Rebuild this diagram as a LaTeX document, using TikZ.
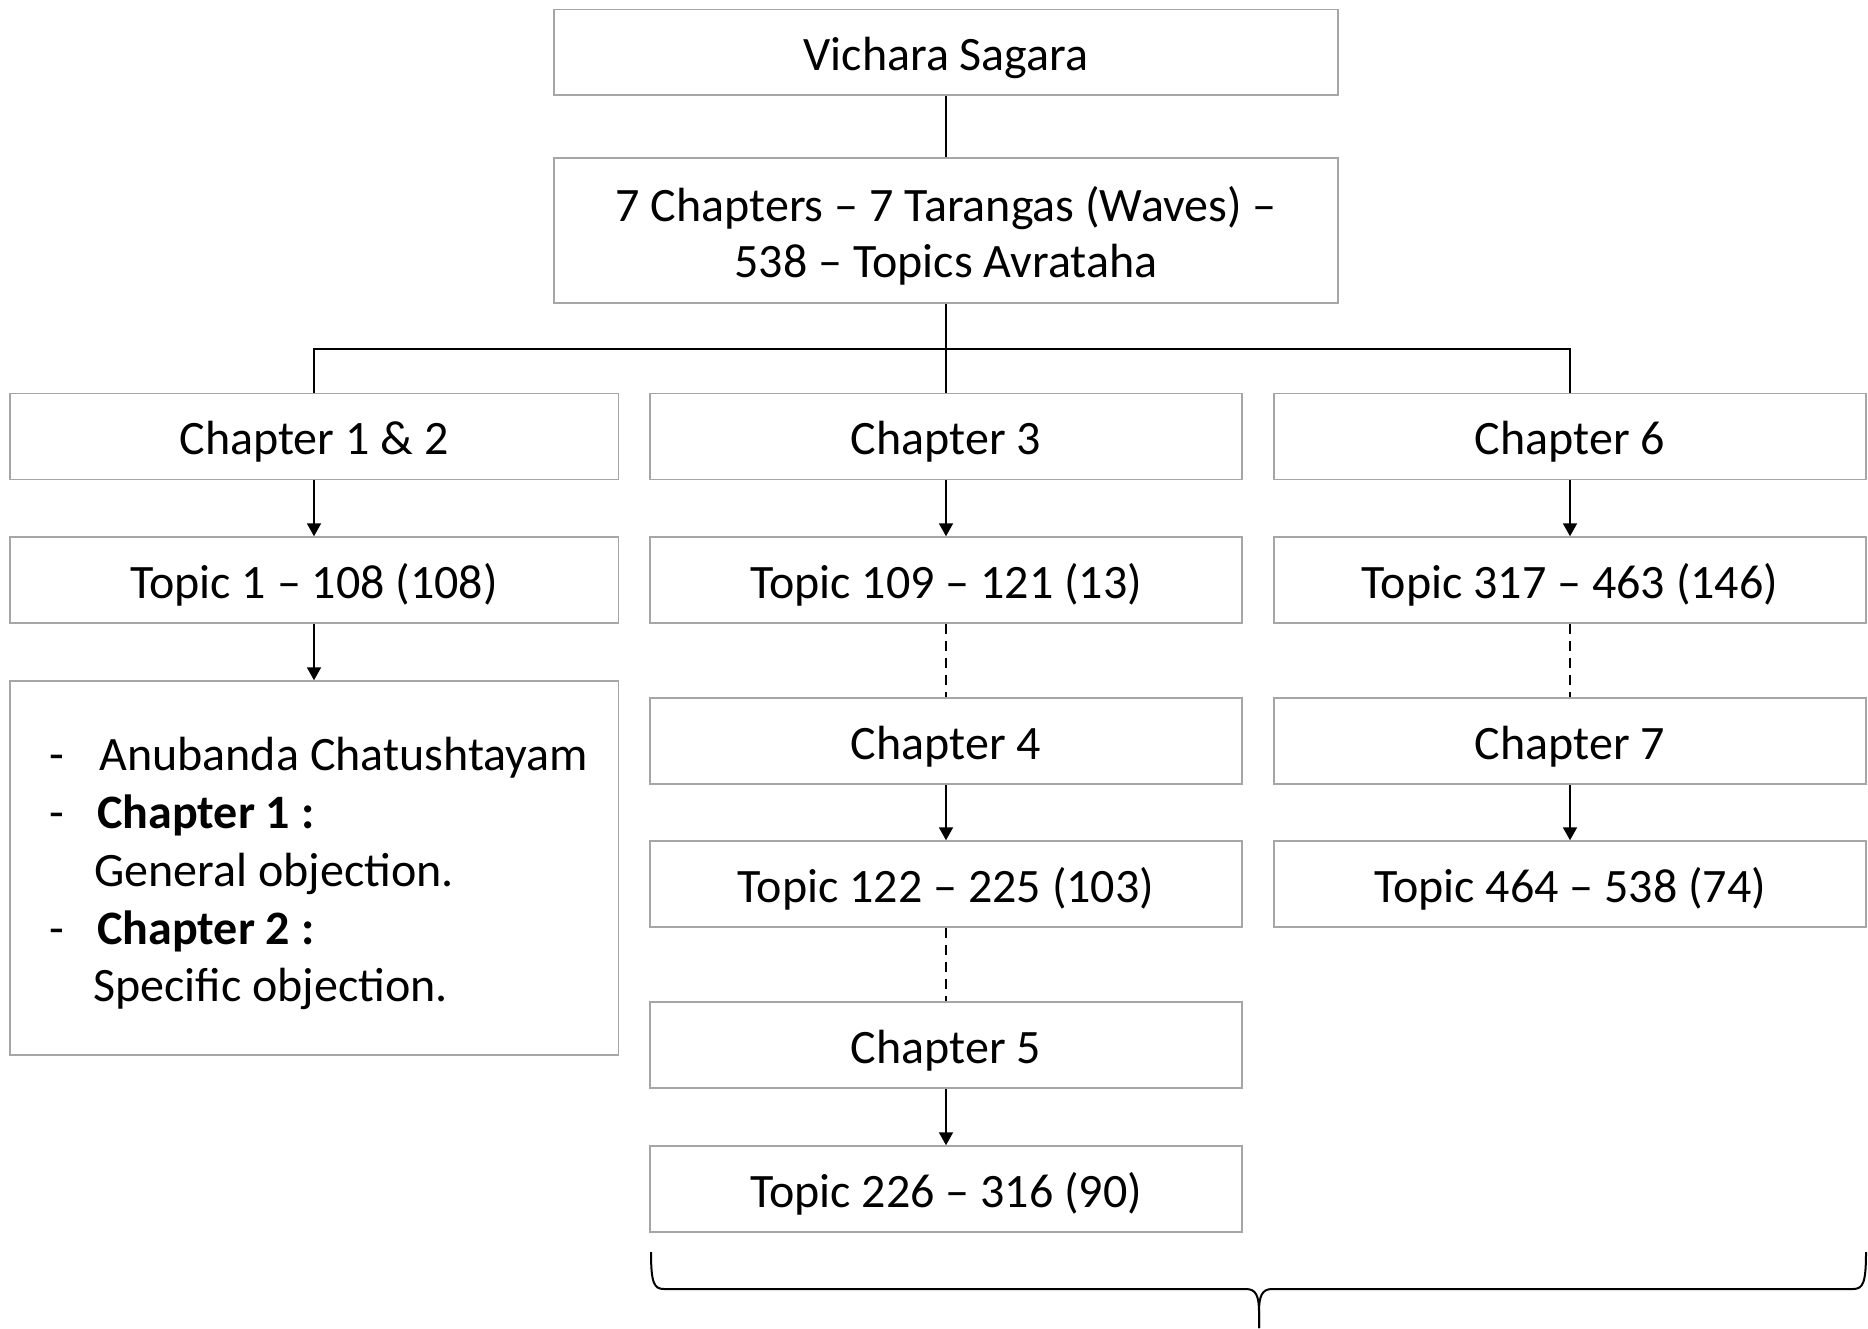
\documentclass[tikz,border=0pt]{standalone}
\usepackage{fontspec}
\setmainfont{Carlito}
\usetikzlibrary{arrows.meta}
\definecolor{boxgray}{RGB}{166,166,166}
\begin{document}
\begin{tikzpicture}[x=0.5pt,y=-0.5pt,
  txt/.style={font=\fontsize{24}{28}\selectfont},
  box/.style={txt, draw=boxgray, line width=0.75pt, minimum height=43pt, inner sep=0pt,
    text height=19pt, text depth=0.8pt},
  widebox/.style={box, minimum width=304.25pt},
  colbox/.style={box, minimum width=296pt},
  topbox/.style={box, minimum width=392pt},
  link/.style={line width=1pt, black},
  arr/.style={link, -{Triangle[width=7pt,length=6.5pt]}},
  dlink/.style={line width=0.8pt, black, dash pattern=on 5pt off 3.5pt},
  line/.style={txt, anchor=base west, inner sep=0pt}]

\useasboundingbox (0,0) rectangle (1868,1328);

% title and summary
\node[topbox, minimum height=42.75pt] (title) at (946,52) {Vichara Sagara};
\node[topbox, minimum height=72.5pt, align=center, text height=47.5pt, text depth=0.8pt] (summary) at (946,230.5)
  {7 Chapters -- 7 Tarangas (Waves) --\\538 -- Topics Avrataha};

% first row of chapters
\node[widebox] (c12) at (314,436.5) {Chapter 1 \& 2};
\node[colbox] (c3) at (946,436.5) {Chapter 3};
\node[colbox] (c6) at (1570,436.5) {Chapter 6};

% topic ranges
\node[widebox] (t1) at (314,580) {Topic 1 -- 108 (108)};
\node[colbox] (t109) at (946,580) {Topic 109 -- 121 (13)};
\node[colbox] (t317) at (1570,580) {Topic 317 -- 463 (146)};

% description of chapters 1 and 2
\node[draw=boxgray, line width=0.75pt, minimum width=304.25pt, minimum height=187pt, inner sep=0pt] (desc) at (314,868) {};
\node[line] (d1) at (49,770) {-};
\node[line] (l1) at (99,770) {Anubanda Chatushtayam};
\node[line] (d2) at (49,828) {-};
\node[line] (l2) at (97,828) {\bfseries Chapter 1 :};
\node[line] (l3) at (94,886) {General objection.};
\node[line] (d3) at (49,944) {-};
\node[line] (l4) at (97,944) {\bfseries Chapter 2 :};
\node[line] (l5) at (93,1001) {Specific objection.};

% middle column
\node[colbox] (c4) at (946,741) {Chapter 4};
\node[colbox] (t122) at (946,884) {Topic 122 -- 225 (103)};
\node[colbox] (c5) at (946,1045) {Chapter 5};
\node[colbox] (t226) at (946,1189) {Topic 226 -- 316 (90)};

% right column
\node[colbox] (c7) at (1570,741) {Chapter 7};
\node[colbox] (t464) at (1570,884) {Topic 464 -- 538 (74)};

% tree connectors
\coordinate (hub) at (946,349);
\draw[link] (title) -- (summary);
\draw[link] (summary.south) -- (c3.north);
\draw[link] (c12.north) -- (c12.north |- hub) -- (c6.north |- hub) -- (c6.north);

% arrows
\draw[arr] (c12) -- (t1);
\draw[arr] (t1) -- (desc);
\draw[arr] (c3) -- (t109);
\draw[arr] (c4) -- (t122);
\draw[arr] (c5) -- (t226);
\draw[arr] (c6) -- (t317);
\draw[arr] (c7) -- (t464);

% dashed links between chapters
\draw[dlink] (t109) -- (c4);
\draw[dlink] (t122) -- (c5);
\draw[dlink] (t317) -- (c7);

% brace under chapters 3 to 7
\coordinate (bl) at (651,1252);
\coordinate (br) at (1866,1252);
\coordinate (tip) at (1259,1328);
\draw[line width=1pt]
  (bl) .. controls (651,1283) and (654,1289) .. (664,1289)
  -- (1246,1289) .. controls (1256,1289) and (1259,1296) .. (1259,1312) -- (tip);
\draw[line width=1pt]
  (br) .. controls (1866,1283) and (1863,1289) .. (1853,1289)
  -- (1272,1289) .. controls (1262,1289) and (1259,1296) .. (1259,1312) -- (tip);
\end{tikzpicture}
\end{document}
